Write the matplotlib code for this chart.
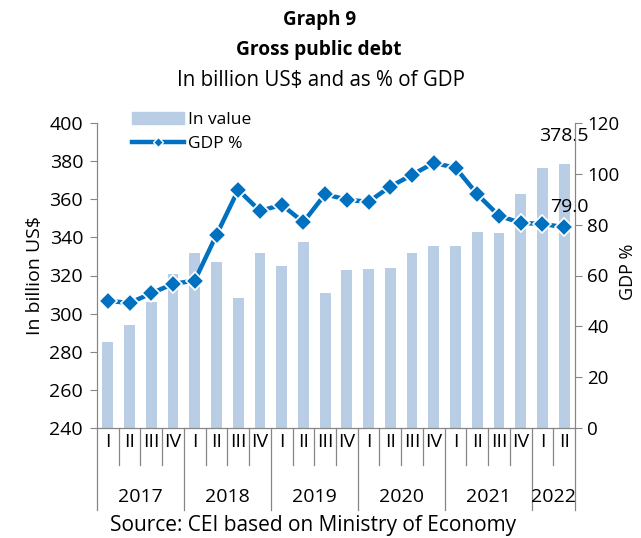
"""Graph 9: gross public debt, value (bars) and % of GDP (line)."""
import matplotlib
matplotlib.use("Agg")
import matplotlib.pyplot as plt
import matplotlib.transforms as mtrans
from matplotlib.lines import Line2D
from matplotlib.patches import Patch

years = ["2017", "2018", "2019", "2020", "2021", "2022"]
quarters_per_year = [4, 4, 4, 4, 4, 2]
quarter_names = ["I", "II", "III", "IV"]
debt_value = [285.0, 294.0, 306.0, 321.0, 332.0, 327.0, 308.0, 332.0,
              325.0, 337.5, 311.0, 323.0, 323.5, 324.0, 332.0, 335.5,
              335.5, 343.0, 342.5, 363.0, 376.5, 378.5]
gdp_pct = [50.0, 49.2, 53.0, 56.7, 58.0, 76.0, 93.7, 85.4,
           87.8, 81.0, 92.0, 89.8, 89.0, 95.0, 99.6, 104.3,
           102.4, 92.0, 83.5, 80.7, 80.3, 79.0]

bar_c = "#B9CDE5"
line_c = "#0070C0"
axis_c = "#868686"
fs = 14

plt.rcParams.update({"font.family": ["Open Sans", "DejaVu Sans"], "font.size": fs})
fig = plt.figure(figsize=(6.41, 5.38), dpi=100)
ax = fig.add_axes([97/641, 1-428/538, 478/641, 305/538])
ax2 = ax.twinx()

x = list(range(len(debt_value)))
ax.bar(x, debt_value, width=0.5, color=bar_c, zorder=2)
ax.set_ylim(240, 400)
ax.set_xlim(-0.5, len(x) - 0.5)
ax.set_yticks(range(240, 401, 20))
ax.set_xticks([])
ax2.plot(x, gdp_pct, color=line_c, lw=3.2, marker="D", ms=9,
         mfc=line_c, mec="white", mew=1.2, zorder=3)
ax2.set_ylim(0, 120)
ax2.set_yticks(range(0, 121, 20))

for a in (ax, ax2):
    for s in a.spines.values():
        s.set_color(axis_c)
    a.spines["top"].set_visible(False)
    a.tick_params(axis="y", colors=axis_c, labelcolor="black", length=5,
                  labelsize=fs, pad=5)
ax2.tick_params(axis="y", labelsize=13.5, pad=4)
ax.set_ylabel("In billion US$", fontsize=fs, labelpad=4)
fig.text(628/641, 1-272/538, "GDP %", rotation=90, ha="center", va="center",
         fontsize=13)

ax.annotate(f"{debt_value[-1]:.1f}", (x[-1], debt_value[-1]), xytext=(0, 14),
            textcoords="offset points", ha="center", va="bottom", fontsize=fs)
ax2.annotate(f"{gdp_pct[-1]:.1f}", (x[-1], gdp_pct[-1]), xytext=(4, 8),
             textcoords="offset points", ha="center", va="bottom", fontsize=fs)

# two-level category axis
tr = mtrans.blended_transform_factory(ax.transData, ax.transAxes)
pos = 0
bounds = [-0.5]
for yr, n in zip(years, quarters_per_year):
    for q in range(n):
        ax.text(pos + q, -0.045, quarter_names[q], transform=tr, ha="center",
                va="center", fontsize=fs)
        if q > 0:
            ax.plot([pos + q - 0.5] * 2, [0, -0.12], transform=tr, color=axis_c,
                    lw=0.9, clip_on=False)
    ax.text(pos + (n - 1) / 2, -0.225, yr, transform=tr, ha="center",
            va="center", fontsize=fs)
    pos += n
    bounds.append(pos - 0.5)
for b in bounds:
    ax.plot([b, b], [0, -0.27], transform=tr, color=axis_c, lw=0.9,
            clip_on=False)

fig.text(0.498, 1-20/538, "Graph 9", ha="center", va="center",
         fontsize=13.5, fontweight="bold")
fig.text(0.498, 1-50/538, "Gross public debt", ha="center", va="center",
         fontsize=13.8, fontweight="bold")
fig.text(0.501, 1-80/538, "In billion US$ and as % of GDP", ha="center",
         va="center", fontsize=14.8)
fig.text(0.489, 1-525/538, "Source: CEI based on Ministry of Economy",
         ha="center", va="center", fontsize=15)

handles = [Patch(color=bar_c),
           Line2D([], [], color=line_c, lw=3.2, marker="D", ms=5,
                  mfc=line_c, mec="white", mew=1)]
fig.legend(handles, ["In value", "GDP %"], loc="upper left",
           bbox_to_anchor=(132/641, 1-112/538), frameon=False, fontsize=12.5,
           handlelength=3.0, handletextpad=0.25, labelspacing=0.45,
           borderaxespad=0, borderpad=0)

fig.savefig("out.png", dpi=100)
